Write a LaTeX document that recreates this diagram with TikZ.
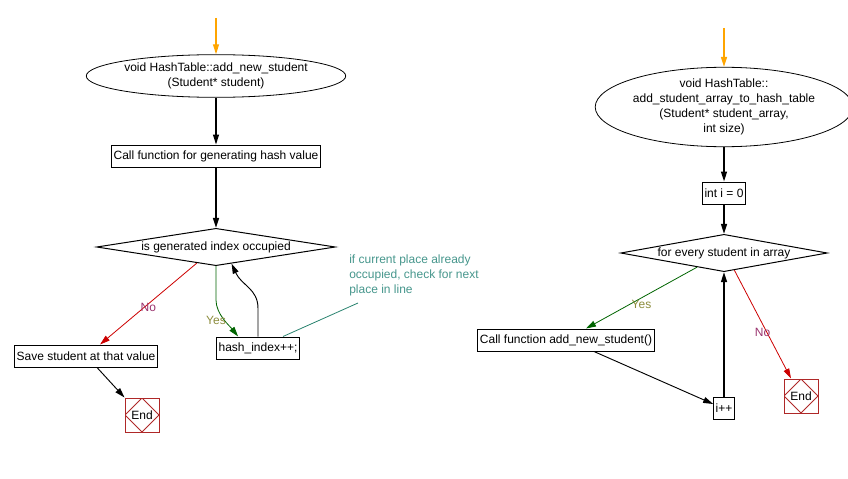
\documentclass[tikz,border=0pt]{standalone}
\usepackage{fontspec}
\setmainfont{Liberation Sans}
\usetikzlibrary{shapes.geometric,arrows.meta,calc}

\definecolor{entry}{RGB}{255,165,0}
\definecolor{nored}{RGB}{204,0,0}
\definecolor{yesgreen}{RGB}{0,100,0}
\definecolor{notext}{RGB}{153,51,110}
\definecolor{yestext}{RGB}{140,140,60}
\definecolor{hinttext}{RGB}{70,150,140}
\definecolor{hintline}{RGB}{40,130,110}
\definecolor{endred}{RGB}{175,40,40}

\tikzset{
  start/.style={draw, ellipse, line width=0.6pt, inner sep=0pt, align=center, minimum width=161pt, minimum height=32pt},
  box/.style={draw, line width=0.75pt, inner xsep=1.5pt, inner ysep=0pt, minimum height=16.5pt},
  decision/.style={draw, diamond, line width=0.75pt, inner sep=0pt, shape aspect=6.5, minimum height=28pt},
  stop/.style={draw=endred, line width=0.75pt, minimum width=25.5pt, minimum height=25.5pt, inner sep=0pt,
    path picture={\draw[endred, line width=0.6pt] (path picture bounding box.north) -- (path picture bounding box.east)
      -- (path picture bounding box.south) -- (path picture bounding box.west) -- cycle;}},
  note/.style={text=hinttext, align=left, inner sep=0pt},
  flow/.style={-{Triangle[length=7.5pt,width=4.5pt]}, line width=1.1pt},
  thinflow/.style={-{Triangle[length=7.5pt,width=4.5pt]}, line width=0.7pt},
  inflow/.style={-{Triangle[length=7.5pt,width=4.5pt]}, line width=1.1pt, draw=entry},
  noflow/.style={-{Triangle[length=7.5pt,width=4.5pt]}, line width=0.6pt, draw=nored},
  yesflow/.style={-{Triangle[length=7.5pt,width=4.5pt]}, line width=0.6pt, draw=yesgreen},
  nolabel/.style={text=notext, inner sep=0pt},
  yeslabel/.style={text=yestext, inner sep=0pt}
}

\begin{document}
\begin{tikzpicture}[x=0.75pt, y=-0.75pt, font=\fontsize{9}{11.25}\selectfont]
\useasboundingbox (0,0) rectangle (848,478);
% nodes

\coordinate (inA) at (216,18);
\node[start] (fnA) at (216,76) {void HashTable::add\_new\_student\\(Student* student)};
\node[box] (hashcall) at (216,156) {Call function for generating hash value};
\node[decision, minimum width=179pt] (occ) at (216,247) {is generated index occupied};
\node[box] (save) at (86,356) {Save student at that value};
\node[box] (hash) at (258,348) {hash\_index++;};
\node[stop] (endA) at (142,415) {End};
\node[note, anchor=north west] (hint) at (349,255) {if current place already\\occupied, check for next\\place in line};

\coordinate (inB) at (724,28);
\node[start, minimum height=59pt] (fnB) at (724,107) {void HashTable::\\add\_student\_array\_to\_hash\_table\\(Student* student\_array,\\int size)};
\node[box] (initI) at (724,193) {int i = 0};
\node[decision, minimum width=155pt] (loop) at (724,253) {for every student in array};
\node[box] (callAdd) at (566,340) {Call function add\_new\_student()};
\node[box] (inc) at (724,408) {i++};
\node[stop] (endB) at (801,396) {End};

% arrows
\draw [inflow] (inA)--(fnA);
\draw [flow] (fnA)--(hashcall);
\draw [flow] (hashcall)--(occ);
\draw [noflow] ($(occ.south)!0.16!(occ.west)$)--($(save.north)+(14,0)$) node[nolabel, pos=0.5, yshift=-3pt] {No};
\draw [yesflow] (occ.south)--++(0,34) .. controls ++(0,14) and ($(hash.north west)+(14,-10)$) .. ($(hash.north west)+(22,0)$);
\node[yeslabel] (yesA) at (216,320) {Yes};
\draw [thinflow] (hash.north)--++(0,-28) .. controls ++(0,-20) and ($(occ.south)!0.13!(occ.east)+(10,22)$) .. ($(occ.south)!0.13!(occ.east)$);
\draw [hintline, line width=0.6pt] ($(hash.north)+(25,0)$)--(358,303);
\draw [thinflow] ($(save.south)+(11,0)$)--(endA.north west);

\draw [inflow] (inB)--(fnB);
\draw [flow] (fnB)--(initI);
\draw [flow] (initI)--(loop);
\draw [yesflow] ($(loop.south)!0.26!(loop.west)$)--($(callAdd.north)+(20,0)$) node[yeslabel, pos=0.5, yshift=-5pt] {Yes};
\draw [thinflow] ($(callAdd.south)+(28,0)$)--($(inc.west)+(0,-4)$);
\draw [flow] (inc)--(loop);
\draw [noflow] ($(loop.south)!0.1!(loop.east)$)--($(endB.north)+(-10,0)$) node[nolabel, pos=0.57, xshift=-3pt] {No};

\end{tikzpicture}
\end{document}
